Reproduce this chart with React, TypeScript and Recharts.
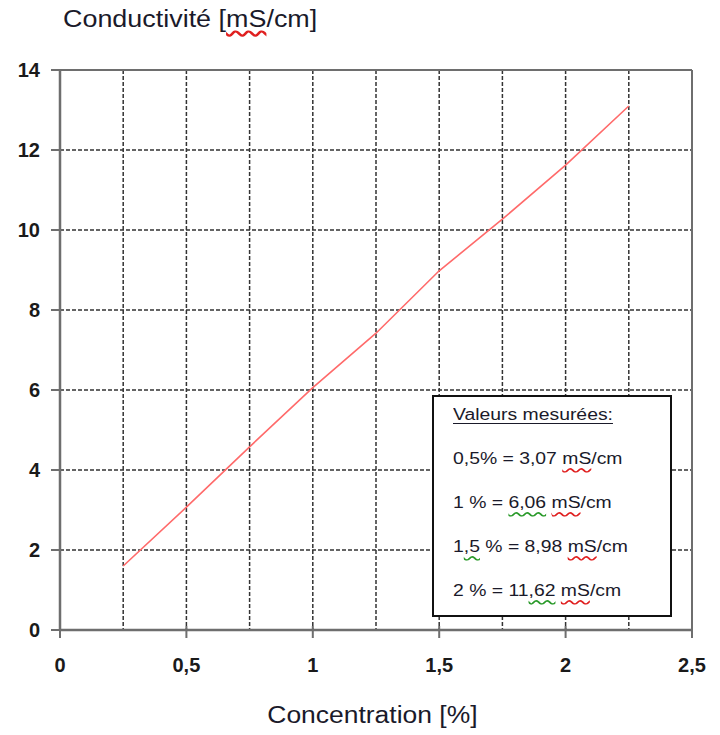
import React from "react";
import {
  CartesianGrid,
  Line,
  LineChart,
  ReferenceLine,
  XAxis,
  YAxis,
} from "recharts";

const concentration = [0.25, 0.5, 0.75, 1, 1.25, 1.5, 1.75, 2, 2.25];
const conductivity = [1.6, 3.07, 4.58, 6.06, 7.42, 8.98, 10.27, 11.62, 13.1];
const xTicks = [0, 0.25, 0.5, 0.75, 1, 1.25, 1.5, 1.75, 2, 2.25, 2.5];
const yTicks = [0, 2, 4, 6, 8, 10, 12, 14];

const data = concentration.map((c, i) => ({ c, v: conductivity[i] }));

const FONT = "'Liberation Sans', Arial, sans-serif";
const AXIS = "#6e6e6e";

const fmt = (v: number) => String(v).replace(".", ",");

function XTick(props: any) {
  const { x, y, payload } = props;
  const v = payload.value as number;
  const major = Math.abs(v * 2 - Math.round(v * 2)) < 1e-6;
  if (!major) return null;
  return (
    <g>
      <line x1={x} x2={x} y1={y - 4} y2={y + 8} stroke={AXIS} strokeWidth={2} />
      <text
        x={x}
        y={y + 42}
        textAnchor="middle"
        fontFamily={FONT}
        fontWeight="bold"
        fontSize={20}
        fill="#1a1a1a"
      >
        {fmt(v)}
      </text>
    </g>
  );
}

function YTick(props: any) {
  const { x, y, payload } = props;
  return (
    <g>
      <line x1={x - 9} x2={x} y1={y} y2={y} stroke={AXIS} strokeWidth={2} />
      <text
        x={x - 20}
        y={y + 7}
        textAnchor="end"
        fontFamily={FONT}
        fontWeight="bold"
        fontSize={20}
        fill="#1a1a1a"
      >
        {payload.value}
      </text>
    </g>
  );
}

const red = { textDecoration: "underline wavy #e02020", textUnderlineOffset: 3 };
const green = { textDecoration: "underline wavy #2a9a2a", textUnderlineOffset: 3 };

export default function App() {
  return (
    <div
      style={{
        position: "absolute",
        left: 0,
        top: 0,
        width: 720,
        height: 735,
        background: "#fff",
        fontFamily: FONT,
        color: "#1a1a2a",
      }}
    >
      <div
        style={{
          position: "absolute",
          left: 63,
          top: 6,
          fontSize: 23,
          transform: "scaleX(1.17)",
          transformOrigin: "left top",
          whiteSpace: "nowrap",
        }}
      >
        Conductivité [<span style={red}>mS</span>/cm]
      </div>

      <LineChart
        width={720}
        height={735}
        data={data}
        margin={{ top: 70, right: 28, left: 0, bottom: 0 }}
      >
        <CartesianGrid stroke="#333" strokeDasharray="4 2" strokeWidth={1.5} />
        <XAxis
          type="number"
          dataKey="c"
          domain={[0, 2.5]}
          ticks={xTicks}
          interval={0}
          height={105}
          tickSize={0}
          tickMargin={0}
          tickLine={false}
          axisLine={{ stroke: AXIS, strokeWidth: 2.5 }}
          tick={<XTick />}
        />
        <YAxis
          type="number"
          domain={[0, 14]}
          ticks={yTicks}
          interval={0}
          width={60}
          tickSize={0}
          tickMargin={0}
          tickLine={false}
          axisLine={{ stroke: AXIS, strokeWidth: 2.5 }}
          tick={<YTick />}
        />
        <ReferenceLine y={14} stroke={AXIS} strokeWidth={2} />
        <ReferenceLine x={2.5} stroke={AXIS} strokeWidth={2} />
        <Line
          type="linear"
          dataKey="v"
          stroke="#ff6a6a"
          strokeWidth={1.6}
          dot={false}
          isAnimationActive={false}
        />
      </LineChart>

      <div
        style={{
          position: "absolute",
          left: 56,
          width: 632,
          top: 702,
          textAlign: "center",
          fontSize: 23,
          whiteSpace: "nowrap",
        }}
      >
        <span style={{ display: "inline-block", transform: "scaleX(1.15)" }}>
          Concentration [%]
        </span>
      </div>

      <div
        style={{
          position: "absolute",
          left: 432,
          top: 395,
          width: 236,
          height: 218,
          border: "2px solid #111",
          background: "#fff",
          fontSize: 16,
        }}
      >
        <div
          style={{
            position: "absolute",
            left: 19,
            top: -4,
            transform: "scaleX(1.21)",
            transformOrigin: "left top",
            whiteSpace: "nowrap",
            lineHeight: "44px",
          }}
        >
          <div style={{ textDecoration: "underline", textUnderlineOffset: 3 }}>
            Valeurs mesurées:
          </div>
          <div>
            0,5% = 3,07 <span style={red}>mS</span>/cm
          </div>
          <div>
            1 % = <span style={green}>6,06</span> <span style={red}>mS</span>/cm
          </div>
          <div>
            1<span style={green}>,5</span> % = 8,98 <span style={red}>mS</span>/cm
          </div>
          <div>
            2 % = 11<span style={green}>,62</span> <span style={red}>mS</span>/cm
          </div>
        </div>
      </div>
    </div>
  );
}
